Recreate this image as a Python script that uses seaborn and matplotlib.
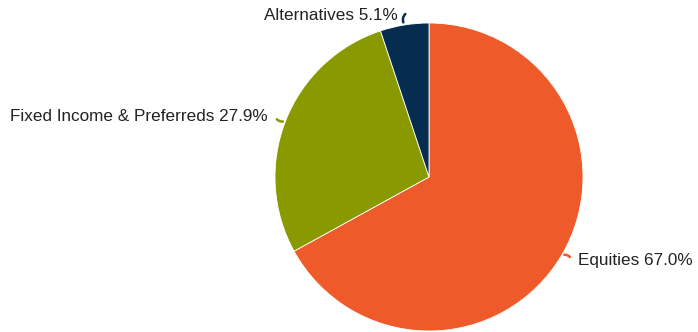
import matplotlib
matplotlib.use("Agg")
import matplotlib.pyplot as plt
import seaborn as sns
import numpy as np

categories = ["Equities", "Fixed Income & Preferreds", "Alternatives"]
shares = [67.0, 27.9, 5.1]
colors = ["#EF5A2B", "#899A00", "#062D4F"]

sns.set_theme(style="white")
plt.rcParams["font.family"] = ["Liberation Sans", "DejaVu Sans"]

W, H = 698, 332
fig = plt.figure(figsize=(W / 100, H / 100), dpi=100)
cx, cy, r = 429, 177, 154
ax = fig.add_axes([(cx - r) / W, (H - cy - r) / H, 2 * r / W, 2 * r / H])

wedges, _ = ax.pie(shares, colors=colors, startangle=90, counterclock=False,
                   radius=1.0, wedgeprops=dict(linewidth=0.6, edgecolor="white"))
ax.set_xlim(-1, 1)
ax.set_ylim(-1, 1)
ax.set_aspect("equal")
ax.axis("off")

# label anchors and leader-line end points
text_pos = {
    "Equities": (0.965, -0.545, "left", (0.925, -0.535)),
    "Fixed Income & Preferreds": (-1.05, 0.395, "right", (-0.998, 0.39)),
    "Alternatives": (-0.20, 1.05, "right", (-0.14, 1.07)),
}

for w, cat, val, col in zip(wedges, categories, shares, colors):
    ang = np.deg2rad((w.theta1 + w.theta2) / 2)
    x0, y0 = np.cos(ang) * 1.0, np.sin(ang) * 1.0
    tx, ty, ha, (lx, ly) = text_pos[cat]
    ax.annotate("", xy=(x0, y0), xytext=(lx, ly),
                arrowprops=dict(arrowstyle="-", color=col, lw=1.8,
                                connectionstyle="arc3,rad=0.45"),
                annotation_clip=False)
    ax.text(tx, ty, f"{cat} {val:.1f}%", ha=ha, va="center", fontsize=12.3,
            color="#222222", clip_on=False)

fig.savefig("out.png", dpi=100)
